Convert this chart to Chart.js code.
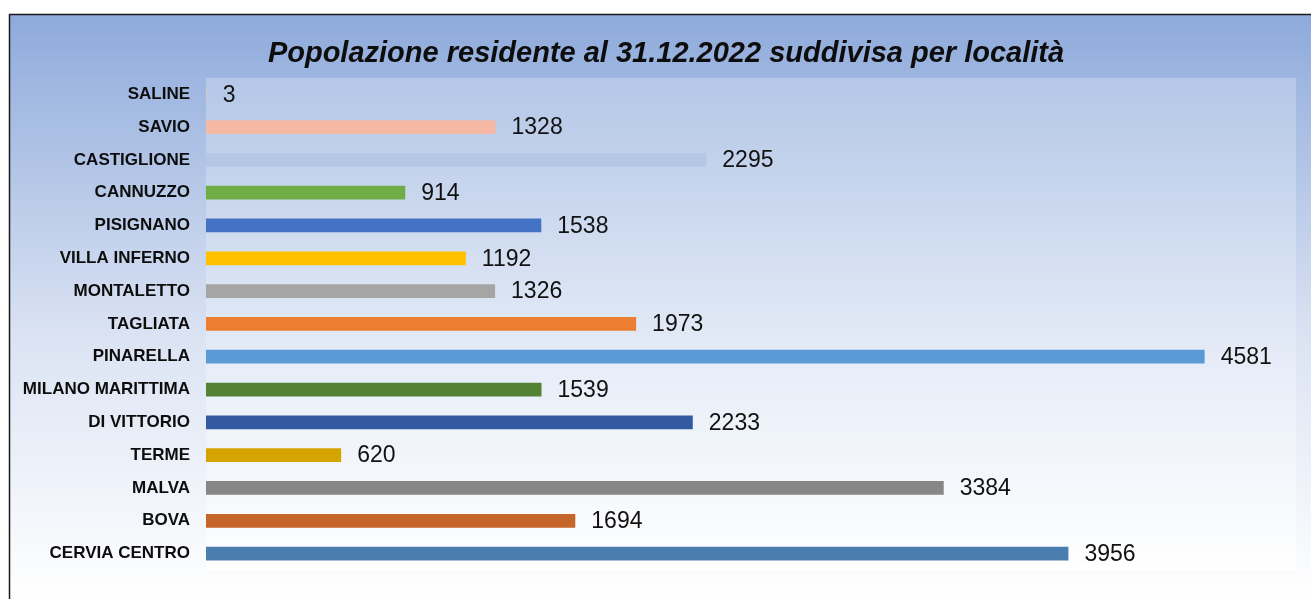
<!DOCTYPE html>
<html>
<head>
<meta charset="utf-8">
<script src="https://cdn.jsdelivr.net/npm/chart.js@4/dist/chart.umd.min.js"></script>
<style>
  html, body { margin: 0; padding: 0; background: #fff; }
  #wrap { width: 1311px; height: 599px; position: relative; }
</style>
</head>
<body>
<div id="wrap"><canvas id="popChart"></canvas></div>
<script>
// Località (dall'alto verso il basso)
const localita = ['SALINE', 'SAVIO', 'CASTIGLIONE', 'CANNUZZO', 'PISIGNANO', 'VILLA INFERNO', 'MONTALETTO',
  'TAGLIATA', 'PINARELLA', 'MILANO MARITTIMA', 'DI VITTORIO', 'TERME', 'MALVA', 'BOVA', 'CERVIA CENTRO'];

// Residenti al 31.12.2022
const residenti = [3, 1328, 2295, 914, 1538, 1192, 1326, 1973, 4581, 1539, 2233, 620, 3384, 1694, 3956];

// Colori delle barre
const coloriBarre = ['#e9c9a4', '#f4b8a4', '#b4c7e7', '#70ad47', '#4472c4', '#ffc000', '#a5a5a5',
  '#ed7d31', '#5b9bd5', '#548235', '#335aa0', '#d6a400', '#878787', '#c5652a', '#4a7eae'];

const titolo = 'Popolazione residente al 31.12.2022 suddivisa per località';

// Sfondo: cornice, gradiente esterno e area del grafico
const sfondoPlugin = {
  id: 'sfondo',
  afterLayout(chart) {
    // il titolo nell'originale è un po' spostato a destra
    if (chart.titleBlock) chart.titleBlock.left += 26;
  },
  beforeDraw(chart) {
    const { ctx, chartArea, width, height } = chart;
    ctx.save();
    ctx.fillStyle = '#ffffff';
    ctx.fillRect(0, 0, width, height);

    const g = ctx.createLinearGradient(0, 15, 0, height);
    g.addColorStop(0, '#8eaadb');
    g.addColorStop(0.55, '#dbe3f3');
    g.addColorStop(1, '#ffffff');
    ctx.fillStyle = g;
    ctx.fillRect(10, 15, width - 10, height - 15);

    const g2 = ctx.createLinearGradient(0, chartArea.top, 0, chartArea.bottom);
    g2.addColorStop(0, '#b4c7e7');
    g2.addColorStop(0.6, '#e8eef8');
    g2.addColorStop(1, '#ffffff');
    ctx.fillStyle = g2;
    ctx.fillRect(chartArea.left, chartArea.top, chartArea.right - chartArea.left, chartArea.bottom - chartArea.top);

    // cornice
    ctx.strokeStyle = '#1a1a1a';
    ctx.lineWidth = 1.5;
    ctx.beginPath();
    ctx.moveTo(9.5, height);
    ctx.lineTo(9.5, 14.5);
    ctx.lineTo(width, 14.5);
    ctx.stroke();
    ctx.restore();
  }
};

// Etichette dei valori a destra delle barre
const etichettePlugin = {
  id: 'etichette',
  afterDatasetsDraw(chart) {
    const { ctx } = chart;
    const meta = chart.getDatasetMeta(0);
    ctx.save();
    ctx.font = '23px "Liberation Sans", Arial, sans-serif';
    ctx.fillStyle = '#111111';
    ctx.textAlign = 'left';
    ctx.textBaseline = 'middle';
    meta.data.forEach((bar, i) => {
      ctx.fillText(String(residenti[i]), bar.x + 16, bar.y + 1);
    });
    ctx.restore();
  }
};

const popChart = new Chart(document.getElementById('popChart'), {
  type: 'bar',
  data: {
    labels: localita,
    datasets: [{
      data: residenti,
      backgroundColor: coloriBarre,
      borderWidth: 0,
      barPercentage: 0.42,
      categoryPercentage: 1
    }]
  },
  options: {
    indexAxis: 'y',
    responsive: true,
    maintainAspectRatio: false,
    devicePixelRatio: 1,
    animation: false,
    layout: {
      padding: { left: 10, right: 15, top: 15, bottom: 29 }
    },
    scales: {
      x: {
        display: false,
        min: 0,
        max: 5000
      },
      y: {
        grid: { display: false, drawTicks: false },
        border: { display: false },
        ticks: {
          color: '#0d0d0d',
          padding: 16,
          font: { family: '"Liberation Sans", Arial, sans-serif', size: 17, weight: 'bold' }
        },
        afterFit(scale) {
          scale.width = 196;
        }
      }
    },
    plugins: {
      legend: { display: false },
      tooltip: { enabled: false },
      title: {
        display: true,
        text: titolo,
        color: '#0d0d0d',
        padding: { top: 22, bottom: 6 },
        font: { family: '"Liberation Sans", Arial, sans-serif', size: 29, weight: 'bold', style: 'italic' }
      }
    }
  },
  plugins: [sfondoPlugin, etichettePlugin]
});
</script>
</body>
</html>
